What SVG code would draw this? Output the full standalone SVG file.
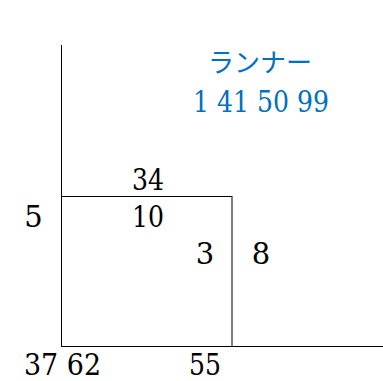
<svg xmlns="http://www.w3.org/2000/svg" width="383" height="381" viewBox="0 0 383 381">
<style>
.ln{stroke:#000;stroke-width:1;fill:none}
.t{font-family:'DejaVu Serif',serif;font-size:29px;fill:#000;text-anchor:middle}
.b{fill:#0070C0}
.j{font-family:'Noto Sans CJK JP',sans-serif;font-size:26px;fill:#0070C0;text-anchor:middle}
</style>
<rect width="383" height="381" fill="#fff"/>
<g id="axes">
<line class="ln" x1="61.5" y1="45" x2="61.5" y2="347"/>
<line class="ln" x1="61.5" y1="346.5" x2="383" y2="346.5"/>
</g>
<g id="box">
<rect class="ln" x="61.5" y="196.5" width="170.5" height="150"/>
</g>
<g id="labels">
<text class="j" x="260" y="72">ランナー</text>
<text class="t b" x="261" y="112" textLength="136" lengthAdjust="spacingAndGlyphs">1 41 50 99</text>
<text class="t" x="148" y="190" textLength="32" lengthAdjust="spacingAndGlyphs">34</text>
<text class="t" x="148" y="227" textLength="32" lengthAdjust="spacingAndGlyphs">10</text>
<text class="t" x="205" y="264">3</text>
<text class="t" x="261" y="264">8</text>
<text class="t" x="33.5" y="227">5</text>
<text class="t" x="62.5" y="375" textLength="77" lengthAdjust="spacingAndGlyphs">37 62</text>
<text class="t" x="205" y="375" textLength="32" lengthAdjust="spacingAndGlyphs">55</text>
</g>
</svg>
